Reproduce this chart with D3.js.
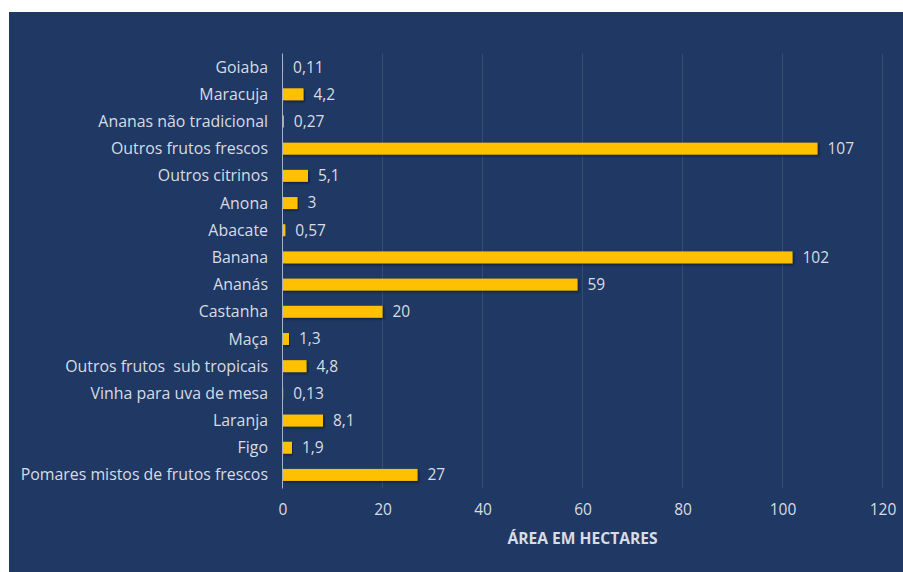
<!DOCTYPE html>
<html>
<head>
<meta charset="utf-8">
<script src="https://cdn.jsdelivr.net/npm/d3@7"></script>
<style>
  html, body { margin: 0; padding: 0; background: #ffffff; }
  svg { display: block; }
  text { white-space: pre; }
</style>
</head>
<body>
<svg id="chart" width="903" height="572"></svg>
<script>
// Fruit orchard area by crop (hectares)
const categories = [
  "Goiaba",
  "Maracuja",
  "Ananas não tradicional",
  "Outros frutos frescos",
  "Outros citrinos",
  "Anona",
  "Abacate",
  "Banana",
  "Ananás",
  "Castanha",
  "Maça",
  "Outros frutos  sub tropicais",
  "Vinha para uva de mesa",
  "Laranja",
  "Figo",
  "Pomares mistos de frutos frescos"
];
const values = [0.11, 4.2, 0.27, 107, 5.1, 3, 0.57, 102, 59, 20, 1.3, 4.8, 0.13, 8.1, 1.9, 27];
const valueLabels = ["0,11", "4,2", "0,27", "107", "5,1", "3", "0,57", "102", "59", "20", "1,3", "4,8", "0,13", "8,1", "1,9", "27"];
const xTicks = [0, 20, 40, 60, 80, 100, 120];
const xTitle = "ÁREA EM HECTARES";

const svg = d3.select("#chart");
const font = "'Open Sans', sans-serif";
const textColor = "#d9dce3";

// Panel background
svg.append("rect")
  .attr("x", 9).attr("y", 12)
  .attr("width", 894).attr("height", 560)
  .attr("fill", "#1f3864");

// Soft drop shadow for the bars
const defs = svg.append("defs");
const f = defs.append("filter").attr("id", "shadow")
  .attr("x", "-5%").attr("y", "-30%").attr("width", "115%").attr("height", "180%");
f.append("feDropShadow")
  .attr("dx", 1.5).attr("dy", 1.5).attr("stdDeviation", 1.2)
  .attr("flood-color", "#000000").attr("flood-opacity", 0.45);

const x = d3.scaleLinear().domain([0, 120]).range([282.5, 882.5]);
const y = d3.scaleBand().domain(categories).range([53.5, 488.5]).paddingInner(0.56).paddingOuter(0.28);

// Vertical gridlines
svg.append("g").selectAll("line")
  .data(xTicks.filter(t => t > 0))
  .join("line")
  .attr("x1", d => x(d)).attr("x2", d => x(d))
  .attr("y1", 53.5).attr("y2", 488.5)
  .attr("stroke", "#ffffff").attr("stroke-opacity", 0.1).attr("stroke-width", 1);

// Bars
svg.append("g").selectAll("rect")
  .data(values)
  .join("rect")
  .attr("x", x(0))
  .attr("y", (d, i) => y(categories[i]))
  .attr("width", d => Math.max(0, x(d) - x(0)))
  .attr("height", y.bandwidth())
  .attr("fill", "#ffc000")
  .attr("filter", "url(#shadow)");

// Category axis line at zero
svg.append("line")
  .attr("x1", x(0)).attr("x2", x(0))
  .attr("y1", 53.5).attr("y2", 488.5)
  .attr("stroke", "#a9b1c4").attr("stroke-width", 1);

// Category labels
svg.append("g").selectAll("text")
  .data(categories)
  .join("text")
  .attr("x", 268)
  .attr("y", d => y(d) + y.bandwidth() / 2)
  .attr("dy", "0.35em")
  .attr("text-anchor", "end")
  .attr("font-family", font)
  .attr("font-size", 15.9)
  .attr("fill", textColor)
  .text(d => d);

// Value labels
svg.append("g").selectAll("text")
  .data(values)
  .join("text")
  .attr("x", d => x(d) + 10)
  .attr("y", (d, i) => y(categories[i]) + y.bandwidth() / 2)
  .attr("dy", "0.35em")
  .attr("font-family", font)
  .attr("font-size", 15.5)
  .attr("fill", textColor)
  .text((d, i) => valueLabels[i]);

// X axis tick labels
const xAxis = d3.axisBottom(x).tickValues(xTicks).tickSize(0).tickPadding(0).tickFormat(d3.format("d"));
const gx = svg.append("g").attr("transform", "translate(0,504)").call(xAxis);
gx.select(".domain").remove();
gx.selectAll("text")
  .attr("font-family", font)
  .attr("font-size", 15.5)
  .attr("fill", textColor)
  .attr("dy", "0.71em");

// Axis title
svg.append("text")
  .attr("x", (x(0) + x(120)) / 2)
  .attr("y", 539)
  .attr("dy", "0.35em")
  .attr("text-anchor", "middle")
  .attr("font-family", font)
  .attr("font-size", 15.6)
  .attr("font-weight", "bold")
  .attr("fill", textColor)
  .text(xTitle);
</script>
</body>
</html>
